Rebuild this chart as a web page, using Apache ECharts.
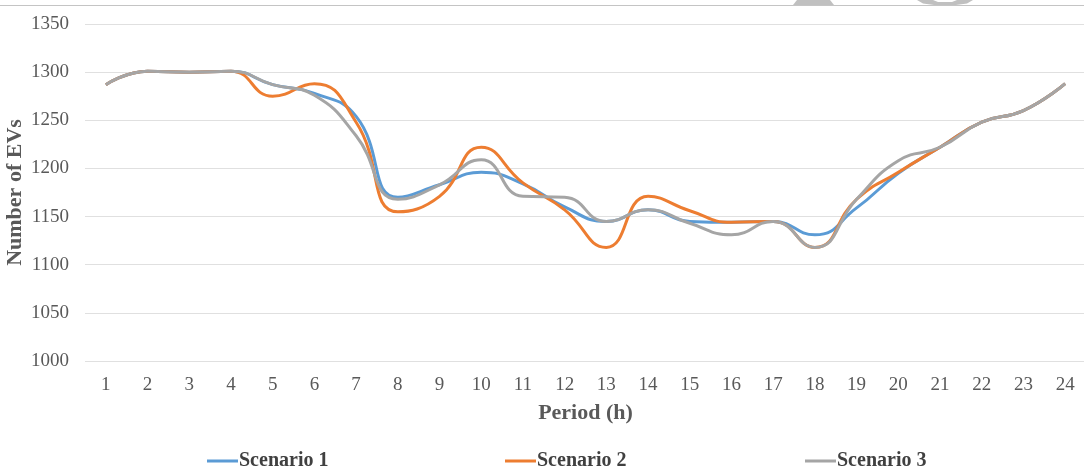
<!DOCTYPE html>
<html>
<head>
<meta charset="utf-8">
<script src="https://cdn.jsdelivr.net/npm/echarts@6/dist/echarts.min.js"></script>
<style>
  html, body { margin: 0; padding: 0; background: #ffffff; }
  #chart { width: 1084px; height: 474px; }
</style>
</head>
<body>
<div id="chart"></div>
<script>
// Hourly number of EVs per scenario
const periods = ['1','2','3','4','5','6','7','8','9','10','11','12','13','14','15','16','17','18','19','20','21','22','23','24'];
const scenario1 = [1287, 1301, 1300, 1301, 1287, 1278, 1254, 1170, 1183, 1196, 1184, 1160, 1145, 1157, 1145, 1144, 1145, 1131, 1159, 1195, 1222, 1248, 1260, 1288];
const scenario2 = [1287, 1301, 1300, 1301, 1275, 1288, 1248, 1155, 1171, 1222, 1185, 1157, 1118, 1171, 1156, 1144, 1145, 1118, 1168, 1196, 1222, 1248, 1260, 1288];
const scenario3 = [1287, 1301, 1300, 1301, 1287, 1276, 1234, 1168, 1183, 1209, 1171, 1170, 1145, 1157, 1143, 1131, 1145, 1118, 1168, 1208, 1222, 1248, 1260, 1288];
const seriesNames = ['Scenario 1', 'Scenario 2', 'Scenario 3'];
const seriesColors = ['#5B9BD5', '#ED7D31', '#A5A5A5'];

const serif = '"Liberation Serif", "Times New Roman", serif';
const chart = echarts.init(document.getElementById('chart'), null, { renderer: 'canvas' });

const dataSets = [scenario1, scenario2, scenario3];
const legendLefts = [207, 505, 805];

chart.setOption({
  animation: false,
  backgroundColor: '#ffffff',
  grid: { left: 85, right: -2, top: 24, bottom: 113, containLabel: false, outerBoundsMode: 'none' },
  legend: seriesNames.map((name, i) => ({
    data: [name],
    left: legendLefts[i],
    top: 451,
    itemWidth: 31,
    itemHeight: 3,
    icon: 'rect',
    padding: 0,
    textStyle: { fontFamily: serif, fontSize: 20, fontWeight: 'bold', color: '#404040', padding: [0, 0, 0, -4] }
  })),
  xAxis: {
    type: 'category',
    data: periods,
    boundaryGap: true,
    name: 'Period (h)',
    nameLocation: 'middle',
    nameGap: 41,
    nameTextStyle: { fontFamily: serif, fontSize: 22, fontWeight: 'bold', color: '#595959' },
    axisLine: { show: false },
    axisTick: { show: false },
    axisLabel: { fontFamily: serif, fontSize: 19, color: '#595959', margin: 15 }
  },
  yAxis: {
    type: 'value',
    min: 1000,
    max: 1350,
    interval: 50,
    name: 'Number of EVs',
    nameLocation: 'middle',
    nameGap: 59,
    nameMoveOverlap: false,
    nameTextStyle: { fontFamily: serif, fontSize: 22, fontWeight: 'bold', color: '#595959' },
    axisLine: { show: false },
    axisTick: { show: false },
    axisLabel: { fontFamily: serif, fontSize: 19, color: '#595959', margin: 16, formatter: v => String(v) },
    splitLine: { lineStyle: { color: '#e0e0e0', width: 1 } }
  },
  series: dataSets.map((d, i) => ({
    name: seriesNames[i],
    type: 'line',
    data: d,
    smooth: 0.5,
    showSymbol: false,
    symbol: 'none',
    lineStyle: { color: seriesColors[i], width: 3 },
    itemStyle: { color: seriesColors[i] },
    z: 2 + i
  })),
  graphic: [
    // thin frame line along the top edge
    { type: 'line', shape: { x1: 0, y1: 5.5, x2: 1084, y2: 5.5 }, style: { stroke: '#c4c4c4', lineWidth: 1 }, silent: true },
    // clipped grey marks above the frame line
    { type: 'polygon', shape: { points: [[797, 0], [830, 0], [834, 5], [793, 5]] }, style: { fill: '#c0c0c0' }, silent: true },
    { type: 'polygon', shape: { points: [[917, 0], [933, 0], [938, 2], [952, 2], [957, 0], [973, 0], [967, 3.5], [956, 5], [934, 5], [923, 3.5]] }, style: { fill: '#c0c0c0' }, silent: true }
  ]
});
</script>
</body>
</html>
